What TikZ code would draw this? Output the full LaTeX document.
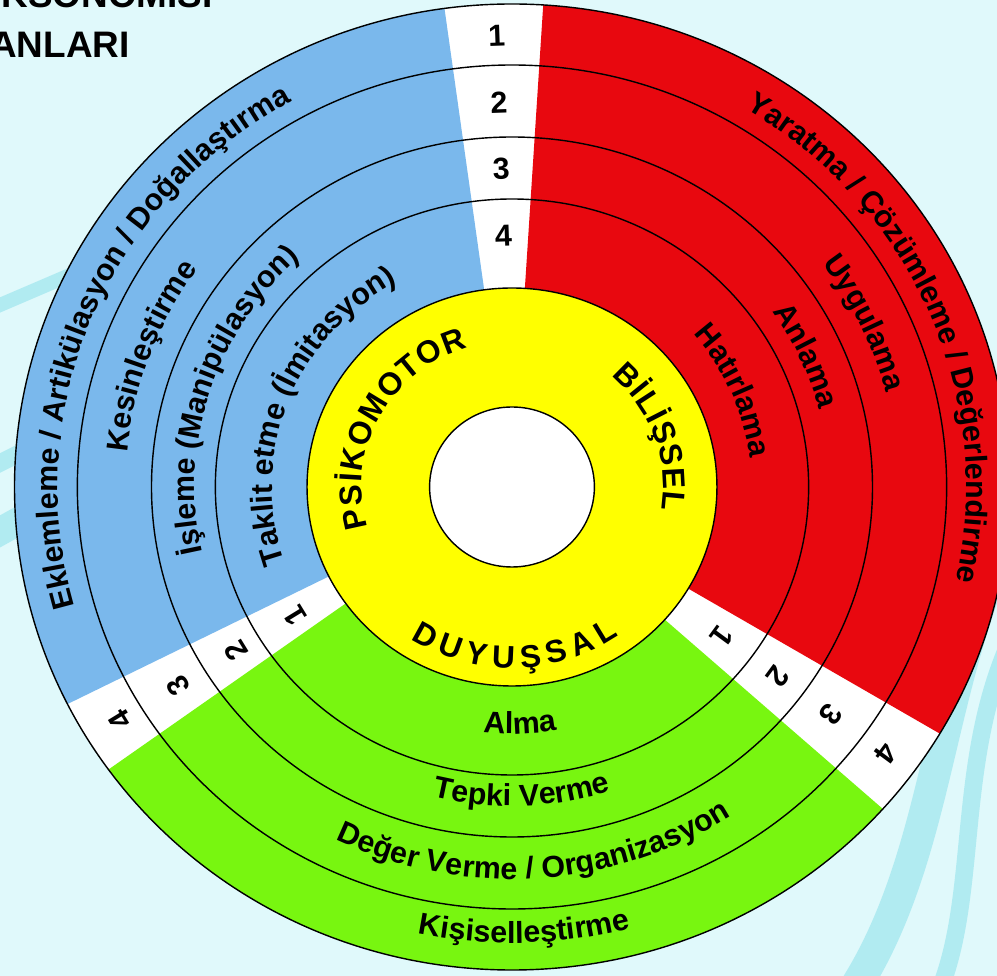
\documentclass[tikz,border=0pt]{standalone}
\usepackage{fontspec}
\setmainfont{Liberation Sans}
\usetikzlibrary{decorations.text}
\definecolor{psikoblue}{RGB}{122,184,236}
\definecolor{bilisred}{RGB}{232,8,15}
\definecolor{duyugreen}{RGB}{120,246,16}
\definecolor{coreyellow}{RGB}{255,255,0}
\definecolor{bgcyan}{RGB}{224,249,251}
\definecolor{seritcyan}{RGB}{90,210,225}
\newcommand\halkafont{\fontsize{17.3}{17.3}\selectfont\bfseries}
\newcommand\ortafont{\fontsize{18}{18}\selectfont\bfseries}
\newcommand\baslikfont{\fontsize{21}{21}\selectfont\bfseries}

\begin{document}
\begin{tikzpicture}[x=0.02cm, y=0.02cm]
% Stil tanımları
\tikzset{
  halka/.style={draw=black, line width=0.8pt},
  rakam/.style={font=\halkafont, inner sep=0pt},
  yayyazi/.style={decorate, decoration={text along path, text align=center, text={|\halkafont|#1}}},
  ortayazi/.style={decorate, decoration={text along path, text align=fit to path, text={|\ortafont|#1}}},
  baslik/.style={font=\baslikfont, inner sep=0pt},
  serit/.style={draw=seritcyan, opacity=0.35, line cap=round}
}

% Arka plan
\useasboundingbox (-512,-489) rectangle (485,487);
\clip (-512,-489) rectangle (485,487);
\fill[bgcyan] (-512,-489) rectangle (485,487);
\draw[serit, line width=16] (-540,-60) -- (-360,40);
\draw[serit, line width=10] (-540,10) -- (-380,90);
\draw[serit, line width=8] (-540,170) -- (-400,230);
\draw[serit, line width=18] (500,-40) .. controls (420,-200) and (430,-380) .. (330,-520);
\draw[serit, line width=10] (500,-150) .. controls (440,-280) and (470,-420) .. (420,-520);

% Başlık
\node[baslik, anchor=base east] (baslik1) at (-299,479) {TAKSONOMİSİ};
\node[baslik, anchor=base east] (baslik2) at (-382,429) {ALANLARI};

\begin{scope}[xscale=1.03]
% Dilimler
\fill[white] (0,0) circle[radius=483];
\fill[psikoblue] (0,0) -- (97.8:483) arc[start angle=97.8, end angle=206.7, radius=483] -- cycle;
\fill[duyugreen] (0,0) -- (215.8:483) arc[start angle=215.8, end angle=318.2, radius=483] -- cycle;
\fill[bilisred] (0,0) -- (329.3:483) arc[start angle=329.3, end angle=446.4, radius=483] -- cycle;

% Halkalar
\draw[halka] (0,0) circle[radius=483];
\draw[halka] (0,0) circle[radius=422];
\draw[halka] (0,0) circle[radius=350];
\draw[halka] (0,0) circle[radius=288];
\draw[halka, fill=coreyellow] (0,0) circle[radius=199];
\draw[halka, fill=white] (0,0) circle[radius=80];

% Psikomotor alan
\path[yayyazi={Eklemleme / Artikülasyon / Doğallaştırma}] (237.7:441) arc[start angle=237.7, end angle=77.7, radius=441];
\path[yayyazi={Kesinleştirme}] (240:375) arc[start angle=240, end angle=80, radius=375];
\path[yayyazi={İşleme (Manipülasyon)}] (242.5:308) arc[start angle=242.5, end angle=82.5, radius=308];
\path[yayyazi={Taklit etme (İmitasyon)}] (239:233) arc[start angle=239, end angle=79, radius=233];

% Bilişsel alan
\path[yayyazi={Yaratma / Çözümleme / Değerlendirme}] (103:441) arc[start angle=103, end angle=-57, radius=441];
\path[yayyazi={Uygulama}] (105:375) arc[start angle=105, end angle=-55, radius=375];
\path[yayyazi={Anlama}] (104:308) arc[start angle=104, end angle=-56, radius=308];
\path[yayyazi={Hatırlama}] (103.5:233) arc[start angle=103.5, end angle=-56.5, radius=233];

% Duyuşsal alan
\path[yayyazi={Alma}] (191.9:247) arc[start angle=191.9, end angle=351.9, radius=247];
\path[yayyazi={Tepki Verme}] (191.8:319) arc[start angle=191.8, end angle=351.8, radius=319];
\path[yayyazi={Değer Verme / Organizasyon}] (193.6:392) arc[start angle=193.6, end angle=353.6, radius=392];
\path[yayyazi={Kişiselleştirme}] (191.6:456) arc[start angle=191.6, end angle=351.6, radius=456];

% Orta halka
\path[ortayazi={PSİKOMOTOR}] (196:146) arc[start angle=196, end angle=107, radius=146];
\path[ortayazi={BİLİŞSEL}] (49:147) arc[start angle=49, end angle=-9, radius=147];
\path[ortayazi={DUYUŞSAL}] (237:181) arc[start angle=237, end angle=305, radius=181];

% Basamak numaraları
\node[rakam, rotate=2] (ust1) at (91.9:451) {1};
\node[rakam, rotate=2] (ust2) at (91.9:385) {2};
\node[rakam, rotate=2] (ust3) at (91.9:318) {3};
\node[rakam, rotate=2] (ust4) at (91.9:251) {4};
\node[rakam, rotate=121.5] (sol1) at (211.5:247) {1};
\node[rakam, rotate=121.5] (sol2) at (211.5:314) {2};
\node[rakam, rotate=121.5] (sol3) at (211.5:380) {3};
\node[rakam, rotate=121.5] (sol4) at (211.5:446) {4};
\node[rakam, rotate=233.7] (sag1) at (323.7:253) {1};
\node[rakam, rotate=233.7] (sag2) at (323.7:320) {2};
\node[rakam, rotate=233.7] (sag3) at (323.7:384) {3};
\node[rakam, rotate=233.7] (sag4) at (323.7:451) {4};
\end{scope}

\end{tikzpicture}
\end{document}
